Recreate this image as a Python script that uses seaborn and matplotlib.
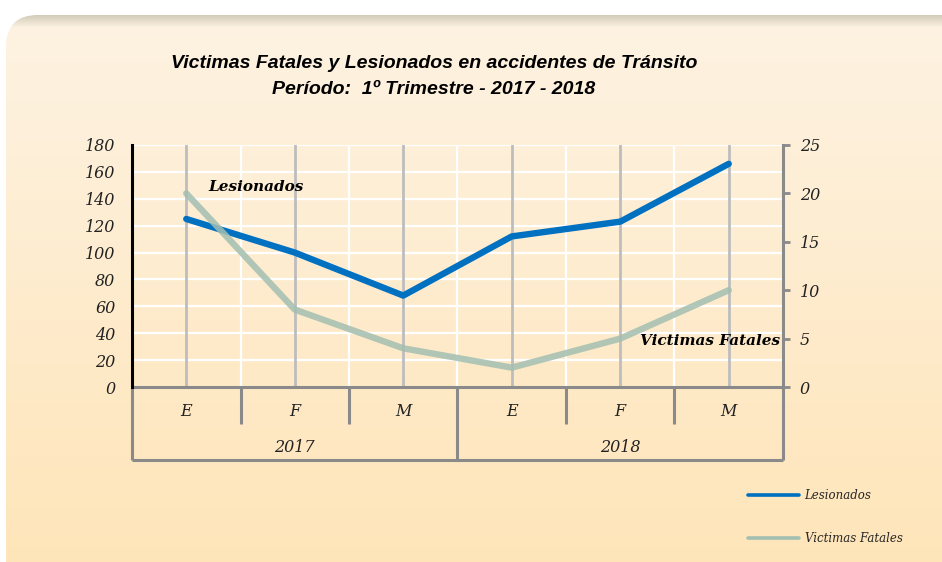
import numpy as np
import pandas as pd
import matplotlib
matplotlib.use("Agg")
import matplotlib.pyplot as plt
import seaborn as sns
from matplotlib.patches import FancyBboxPatch
from matplotlib.lines import Line2D
import matplotlib.transforms as mtrans

# ---- data ----
months = ["E", "F", "M", "E", "F", "M"]
years = ["2017", "2018"]
lesionados = [125, 100, 68, 112, 123, 166]
victimas = [20, 8, 4, 2, 5, 10]

df = pd.DataFrame({"pos": range(len(months)), "Lesionados": lesionados, "Victimas Fatales": victimas})

sns.set_style("white")
W, H = 942, 562
fig = plt.figure(figsize=(W / 100, H / 100), dpi=100, facecolor="white")

# ---- background panel ----
bg = fig.add_axes([0, 0, 1, 1], zorder=-10)
bg.set_xlim(0, W)
bg.set_ylim(H, 0)
bg.axis("off")
top = np.array([0.992, 0.953, 0.893])
bot = np.array([1.0, 0.898, 0.725])
rows = np.linspace(0, 1, H)[:, None]
grad = top * (1 - rows) + bot * rows
# shadow band at top
shadow = np.clip(1 - (np.arange(H) - 15) / 12.0, 0, 1)[:, None]
shade_col = np.array([0.72, 0.70, 0.62])
grad = grad * (1 - 0.6 * shadow) + shade_col * 0.6 * shadow
img = grad[:, None, :].repeat(2, axis=1)
im = bg.imshow(img, extent=[0, W, H, 0], aspect="auto", interpolation="bilinear")
panel = FancyBboxPatch((6, 15), 1000, 620, boxstyle="round,pad=0,rounding_size=32",
                       transform=bg.transData, facecolor="none", edgecolor="none")
bg.add_patch(panel)
im.set_clip_path(panel)

# ---- main axes ----
L, R, T, B = 132, 783, 145, 387
ax = fig.add_axes([L / W, 1 - B / H, (R - L) / W, (B - T) / H])
ax.patch.set_alpha(0)
ax2 = ax.twinx()
ax2.patch.set_alpha(0)

blue = "#0070C0"
green = "#A3BFB1"

sns.lineplot(data=df, x="pos", y="Lesionados", ax=ax, color=blue, linewidth=4.6,
             solid_capstyle="round", zorder=5)
sns.lineplot(data=df, x="pos", y="Victimas Fatales", ax=ax2, color=green, linewidth=4.6,
             alpha=0.85, solid_capstyle="round", zorder=5)

ax.set_xlim(-0.5, len(months) - 0.5)
ax.set_ylim(0, 180)
ax2.set_ylim(0, 25)
ax.set_yticks(range(0, 181, 20))
ax2.set_yticks(range(0, 26, 5))
ax.set_xticks([])
ax.set_xlabel("")
ax.set_ylabel("")
ax2.set_ylabel("")

# grid
for yv in range(20, 181, 20):
    ax.axhline(yv, color="white", lw=1.6, zorder=1)
for i in range(len(months)):
    ax.axvline(i, color="#BDBDBD", lw=2.0, zorder=2)
for i in range(len(months) - 1):
    ax.axvline(i + 0.5, color="white", lw=1.6, zorder=1)

tickfont = dict(family="DejaVu Serif", style="italic", size=11.5, color="#222222")
ax.set_yticklabels([str(v) for v in range(0, 181, 20)], **tickfont)
ax2.set_yticklabels([str(v) for v in range(0, 26, 5)], **tickfont)
ax.tick_params(axis="y", length=0, pad=12)
ax2.tick_params(axis="y", length=5, width=2, color="#8A8A8A", pad=7, direction="out")

for s in ["top", "right", "bottom"]:
    ax.spines[s].set_visible(False)
ax.spines["left"].set_color("black")
ax.spines["left"].set_linewidth(2.2)
for s in ["top", "left", "bottom"]:
    ax2.spines[s].set_visible(False)
ax2.spines["right"].set_color("#8A8A8A")
ax2.spines["right"].set_linewidth(2.2)

# ---- category axis (two levels) ----
trans = mtrans.blended_transform_factory(ax.transData, ax.transAxes)
gray = "#8A8A8A"
ph = B - T
y0 = 0.0
y1 = -(424 - B) / ph
y2 = -(460 - B) / ph
kw = dict(color=gray, lw=2.2, transform=trans, clip_on=False, solid_capstyle="butt")
ax.plot([-0.5, 5.5], [y0, y0], **kw)
ax.plot([-0.5, 5.5], [y2, y2], **kw)
for xb in [-0.5, 2.5, 5.5]:
    ax.plot([xb, xb], [y0, y2], **kw)
for xb in [0.5, 1.5, 3.5, 4.5]:
    ax.plot([xb, xb], [y0, y1], **kw)
catfont = dict(family="DejaVu Serif", style="italic", size=11.5, color="#222222")
for i, m in enumerate(months):
    ax.text(i, -(411 - B) / ph, m, transform=trans, ha="center", va="center", **catfont)
for j, yr in enumerate(years):
    ax.text(1 + 3 * j, -(447 - B) / ph, yr, transform=trans, ha="center", va="center", **catfont)

# ---- inline labels ----
labfont = dict(family="DejaVu Serif", style="italic", weight="bold", size=11, color="black")
fig.text(208 / W, 1 - 187 / H, "Lesionados", ha="left", va="center", **labfont)
fig.text(780 / W, 1 - 341 / H, "Victimas Fatales", ha="right", va="center", **labfont)

# ---- title ----
tfont = dict(family=["Liberation Sans", "DejaVu Sans"], style="italic", weight="bold",
             size=14, color="black")
fig.text(434 / W, 1 - 64 / H, "Victimas Fatales y Lesionados en accidentes de Tránsito",
         ha="center", va="center", **tfont)
fig.text(434 / W, 1 - 89 / H, "Período:  1º Trimestre - 2017 - 2018",
         ha="center", va="center", **tfont)

# ---- legend ----
handles = [Line2D([], [], color=blue, lw=2.6), Line2D([], [], color=green, lw=2.6)]
fig.legend(handles, ["Lesionados", "Victimas Fatales"], loc="center left",
           bbox_to_anchor=(742 / W, 1 - 517 / H), frameon=False,
           prop=dict(family="DejaVu Serif", style="italic", size=8.5),
           handlelength=4.3, handletextpad=0.5, labelspacing=2.6, borderpad=0)

fig.savefig("out.png", dpi=100, facecolor="white")
